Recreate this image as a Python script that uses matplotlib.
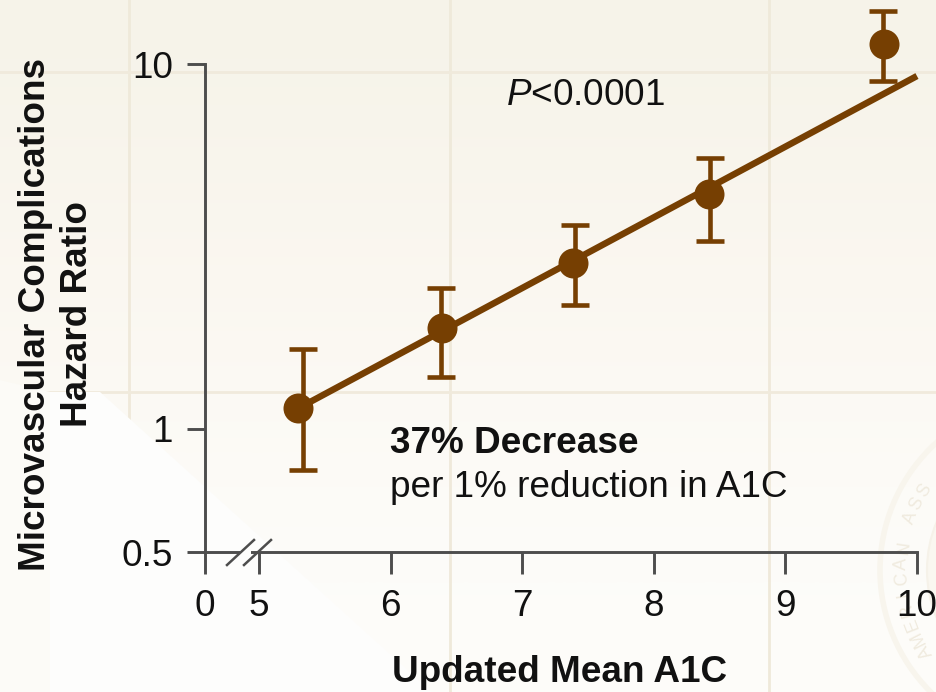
import matplotlib
matplotlib.use('Agg')
import matplotlib.pyplot as plt
import numpy as np

# values
a1c = [5.30, 6.39, 7.39, 8.42, 9.75]
a1c_bar = [5.334, 6.385, 7.40, 8.427, 9.74]
hr = [1.14, 1.89, 2.85, 4.40, 11.35]
hr_low = [0.794, 1.39, 2.19, 3.27, 8.98]
hr_high = [1.66, 2.43, 3.62, 5.53, 13.97]
fit_x = [5.30, 10.0]
fit_y = [1.14, 9.27]
x_ticks = [4.59, 5, 6, 7, 8, 9, 10]
x_labels = ['0', '5', '6', '7', '8', '9', '10']
y_ticks = [0.5, 1, 10]
y_labels = ['0.5', '1', '10']

W, H = 936, 692
BROWN = '#763f02'
AXIS = '#4d4d4d'
INK = '#111111'
FS = 26.6

plt.rcParams['font.family'] = ['Liberation Sans', 'DejaVu Sans']
plt.rcParams['mathtext.fontset'] = 'custom'
plt.rcParams['mathtext.it'] = 'Liberation Sans:italic'
plt.rcParams['mathtext.rm'] = 'Liberation Sans'

fig = plt.figure(figsize=(W / 100, H / 100), dpi=100)

# paper background, in pixel coordinates
bg = fig.add_axes([0, 0, 1, 1], zorder=0)
grad = np.array([[0.965, 0.955, 0.915], [0.98, 0.965, 0.935], [0.985, 0.975, 0.95],
                 [0.99, 0.985, 0.97], [0.993, 0.99, 0.98]])
bg.imshow(grad[:, None, :], extent=[0, W, H, 0], aspect='auto', interpolation='bicubic')
for gx in [129, 450, 769]:
    bg.plot([gx, gx], [0, H], color='#efe9da', lw=2, zorder=1)
for gy in [72, 392]:
    bg.plot([0, W], [gy, gy], color='#f0eadc', lw=2, zorder=1)
bg.fill([50, 100, 432, 50], [392, 392, 692, 692], color='#fdfdfc', lw=0, zorder=2)
bg.fill([0, 50, 50, 0], [380, 392, 692, 692], color='#fcfbf7', lw=0, zorder=2)

# seal at the lower right
bg.add_patch(plt.Circle((1052, 570), 125, fc='#faf7f0', ec='#f6f2e9', lw=1.5, zorder=3))
bg.add_patch(plt.Circle((1052, 570), 172, fc='none', ec='#f8f5ed', lw=4, zorder=3))
for ch, ang in zip('AMERICAN ASS', np.linspace(213, 148, 12)):
    bg.text(1052 + 150 * np.cos(np.radians(ang)), 570 - 150 * np.sin(np.radians(ang)), ch,
            fontsize=13, color='#f0ebdf', ha='center', va='center', rotation=ang - 90,
            rotation_mode='anchor', zorder=3)
bg.set_xlim(0, W)
bg.set_ylim(H, 0)
bg.axis('off')

# y axis: log above 1, the part below 1 is stretched so 0.5 sits at the axis break
k = (123 / 365) / np.log10(2)


def fwd(v):
    v = np.log10(np.maximum(v, 1e-6))
    return np.where(v < 0, v * k, v)


def inv(v):
    v = np.asarray(v, dtype=float)
    return 10 ** np.where(v < 0, v / k, v)


x0, x1 = 205, 936
y0, y1 = 552, 0
ax = fig.add_axes([x0 / W, 1 - y0 / H, (x1 - x0) / W, (y0 - y1) / H], zorder=2)
ax.patch.set_alpha(0)
ax.set_yscale('function', functions=(fwd, inv))
ax.set_xlim(4.59, 4.59 + (x1 - x0) / 131.6)
ax.set_ylim(0.5, 10 ** (429 / 365))
for s in ['top', 'right']:
    ax.spines[s].set_visible(False)
for s in ['left', 'bottom']:
    ax.spines[s].set_color(AXIS)
    ax.spines[s].set_linewidth(2.1)
ax.spines['left'].set_bounds(0.5, 10)
ax.spines['bottom'].set_bounds(4.59, 10)

ax.set_xticks(x_ticks, x_labels)
ax.set_yticks(y_ticks, y_labels)
ax.minorticks_off()
ax.tick_params(axis='x', length=16, width=2.1, color=AXIS, labelsize=FS, pad=11, labelcolor=INK)
ax.tick_params(axis='y', length=13, width=2.1, color=AXIS, labelsize=FS, pad=10, labelcolor=INK)
for lab in ax.get_xticklabels() + ax.get_yticklabels():
    lab.set_clip_on(False)

ax.plot(fit_x, fit_y, color=BROWN, lw=4.7, solid_capstyle='butt', zorder=3)
yerr = [np.array(hr) - np.array(hr_low), np.array(hr_high) - np.array(hr)]
ax.errorbar(a1c_bar, hr, yerr=yerr, fmt='none', ecolor=BROWN, elinewidth=3.3,
            capsize=10.4, capthick=3.3, clip_on=False, zorder=4)
ax.plot(a1c, hr, 'o', color=BROWN, ms=21.6, mew=0, clip_on=False, zorder=5)

# break marks on the x axis, pixel coordinates
fig.add_artist(plt.Rectangle((240 / W, 1 - 555 / H), 11 / W, 6 / H, color='#fdfdfc', lw=0, zorder=5))
for bx in [227, 244]:
    fig.add_artist(plt.Line2D([bx / W, (bx + 27) / W], [1 - 565 / H, 1 - 540 / H],
                              color=AXIS, lw=1.8, zorder=6))

fig.text(45 / W, 1 - 314.5 / H, 'Microvascular Complications', rotation=90, fontsize=FS,
         fontweight='bold', ha='center', va='baseline', rotation_mode='anchor', color=INK)
fig.text(87 / W, 1 - 314 / H, 'Hazard Ratio', rotation=90, fontsize=FS,
         fontweight='bold', ha='center', va='baseline', rotation_mode='anchor', color=INK)
fig.text(560 / W, 1 - 682 / H, 'Updated Mean A1C', fontsize=FS, fontweight='bold',
         ha='center', va='baseline', color=INK)
fig.text(506 / W, 1 - 105 / H, r'$\mathit{P}$<0.0001', fontsize=FS, ha='left', va='baseline',
         color=INK)
fig.text(390 / W, 1 - 453 / H, '37% Decrease', fontsize=FS, fontweight='bold', ha='left',
         va='baseline', color=INK)
fig.text(390 / W, 1 - 497 / H, 'per 1% reduction in A1C', fontsize=FS, ha='left',
         va='baseline', color=INK)

fig.savefig('out.png', dpi=100)
